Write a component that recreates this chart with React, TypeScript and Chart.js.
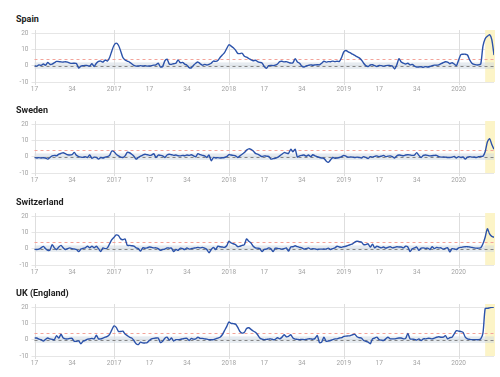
import React, { useEffect, useRef } from 'react';
import { Chart, registerables } from 'chart.js';

Chart.register(...registerables);

// Week index 0 = 2016 week 17; index 208 = 2020 week 17
const TICK_POSITIONS = [0, 17, 36, 52, 69, 88, 104, 121, 140, 156, 173, 192];
const TICK_LABELS = ['17', '34', '2017', '17', '34', '2018', '17', '34', '2019', '17', '34', '2020'];
const YEAR_POSITIONS = [0, 36, 88, 140, 192];
const Y_TICKS = [-10, 0, 10, 20];
const THRESHOLD = 4.2;
const BAND_LOW = -2;
const BAND_HIGH = 2;
const HIGHLIGHT_START = 204;

const COUNTRIES = ['Spain', 'Sweden', 'Switzerland', 'UK (England)'];

const SPAIN = [
  0, -0.3, 0.5, 0.2, 1, 0.3, 2, 0.8, 1, 1.8,
  2.6, 2.5, 2.3, 2.2, 2.4, 2.2, 1.6, 1.4, 1.5, 1.3,
  -1.5, -0.3, 0, 0.2, 0, -0.2, 1.2, -0.5, 1.5, 2.6,
  2.8, 2.2, 3.5, 2.8, 5, 9, 12.5, 13.8, 12.5, 9,
  5, 3.5, 2.8, 2.2, 1.2, 0.2, -0.3, -0.2, 0, -0.2,
  0, -0.3, -0.2, 0, 0.3, 0.5, 1.5, -0.8, -0.5, 3,
  4, 1, 0.8, 1.2, 1.5, 3.5, 1.8, 2, 1, 0.3,
  -1.2, -1.3, 0.3, 1.5, 2.2, 1.2, 0.3, 0.8, 0.4, 0.8,
  1.5, 2.8, 2.6, 3.2, 5, 6.5, 8, 10.5, 12.8, 12,
  11, 9.5, 7.5, 7.4, 7.6, 5.8, 5.2, 4.4, 3.6, 3,
  3.3, 2.5, 2, 1.7, -0.5, -1.6, 0, 0.2, 0, 0.3,
  1, 2.5, 2.7, 2.3, 2.5, 2, 1.6, 1.8, 4.3, 2.3,
  1.5, -0.3, -0.8, -0.2, 0.2, 0.5, 0.3, 0.5, 0.6, 0.5,
  1.5, 2.7, 2.2, 2.5, 2.4, 2.8, 2.5, 2.7, 2.6, 5,
  8.5, 9.3, 8.5, 7.8, 7, 6.3, 5.5, 4.8, 3.5, 1.5,
  0, -0.5, 0.4, 0.6, 0, -0.5, 0.2, 0, -0.3, 0,
  0.2, 0, -0.2, -2, 0.5, 4.3, 2.2, 1.5, 1, 1.5,
  0.5, 0.8, -0.3, -0.8, -0.8, -0.7, -1, -0.6, -0.8, -0.5,
  0, 0.3, 0.3, 0.5, 1.2, 1.8, 2.4, 2.2, 1.2, 1.8,
  1, 0, 3.5, 6.8, 7, 7, 6.5, 3.5, 1.5, 0.8,
  0.5, 0.5, 1, 12, 16.5, 18, 19, 16, 6.5,
];

const SWEDEN = [
  -0.5, -0.8, -0.6, -0.8, -0.7, -0.8, -1.5, -0.5, 0.5, 0.8,
  0.6, 1.5, 2, 2.4, 1.8, 1.2, 1, 1.2, 2.6, 0.8,
  0, -0.3, -0.4, 0, -0.5, 1, -1, -0.3, -0.5, -1.5,
  -0.5, -0.8, -0.3, 0, 0.8, 3.5, 3, 1.5, 0.5, -0.3,
  -0.5, 0.5, 2.6, 2.4, 1.5, 0.3, -1.5, -0.5, 0.3, 1,
  1.5, 1.2, 0.8, 1, 1.8, -0.5, 1, 0.8, 0.5, -0.5,
  1, 1.5, 1.2, 0.8, 1, 0.6, 0.5, 0.8, 0.6, 1,
  0.8, 1.2, 0.5, 0, 1.8, 1.2, 0.8, 0.5, -0.5, 1,
  -2.5, -0.5, -0.8, -0.6, -0.8, -0.7, -0.5, 0, 1.3, 1,
  0.8, 0.5, -0.5, 0.5, 1.5, 2.5, 4, 4.8, 4.5, 3.5,
  2, 1.5, 0.8, 0, 0.5, 0.3, 0.2, -1.5, -1.2, -1,
  -0.5, 0.5, 1.5, 2.5, 2.2, 2, 4.5, 3, 4.5, -0.2,
  0.5, 0.8, 1, 0.3, 1, 0, 1.2, 0.5, 0, -0.5,
  -0.8, -1, -2.6, -3.5, -2, -0.5, -1, -0.8, -0.5, 0,
  0.8, 0.3, -0.3, -0.2, -0.3, -0.5, -0.3, -0.5, -0.8, 0,
  -0.5, -1.2, 0, -0.3, 0.2, 0.5, 0, 0.3, 0.8, 0,
  0.3, 0.5, 0, -0.8, 0.5, 1, 0.8, 0.6, 1, 1.2,
  1, 0.8, 1, 2.5, 0.8, -0.5, 0.8, 1, 0.8, 0.5,
  0.6, 0.8, 0.8, 0, -0.3, -0.2, -0.3, -0.5, -0.5, -0.3,
  0.2, -0.8, 0, -0.5, -0.2, -1.5, -0.3, 0, -0.3, -0.2,
  -0.5, 0, 0.2, 0.3, 3, 9, 11, 7.5, 4.5,
];

const SWITZERLAND = [
  -0.4, -0.5, -0.3, 0.5, 1.4, 0, -1, -0.8, 2.5, 0.5,
  -0.5, 1, 2, 0.5, -0.5, 0, 0.5, 0, -0.2, -0.5,
  -1.8, -0.3, 0.2, 0.5, 1.5, 0.5, 1.5, 0.5, 1.5, 0,
  -1.8, 0.5, 0, 0.5, 3, 5.5, 7, 8.4, 8, 6,
  5.5, 6, 2, 2, 1.8, 1.5, 0.5, 0, -1.5, 0.5,
  0.3, 0.5, 1, 0.8, 0.5, 0.5, 0, -1, -0.5, -0.3,
  0.5, 0.3, 0.3, -1.8, -0.5, -1, 0.3, 0, -0.5, 0.5,
  -0.3, 0, 0.3, 0.5, 0.8, 0.5, 0.8, 0.3, -0.5, -2.5,
  -0.5, 0.8, -0.5, 1.5, 1.2, 1, 0.8, 1.8, 4.5, 3.5,
  3, 2.5, 1.2, 1.5, 2, 2.5, 6, 4.5, 3.5, 1.5,
  0.5, 0.3, 0, -1.8, -0.5, -0.3, 0.5, 0, -1.8, 0.3,
  0.2, 0, -0.3, 0, 0.5, -1.5, 1, 1.2, 1.8, 1.2,
  0.8, 0.5, -0.3, 0, 0.5, -0.3, 0, -0.2, -0.5, -0.3,
  -0.3, -0.2, -0.3, 0.3, -0.5, 0, 0.5, 1.5, 1, 0.8,
  1.2, 1.5, 2, 2.5, 3, 4, 4.5, 4.3, 4, 2.5,
  2.5, 3, 1, 2.8, 0.5, 1.5, 1, 0.5, 1, 0.3,
  0.8, 1.2, 0.5, 0.8, 1.2, 1, 1, 0.5, 1.5, 1,
  -1.8, 0, 0.5, 1, -1, 0.3, 0.5, 0.2, 0.3, -0.5,
  1.2, 0, 0.8, 0.5, 0.5, -0.3, 0.2, 0.5, -2, 0,
  -0.2, -0.5, 0.5, 0.8, 1, 1.2, 1.2, 1, 0.8, 0.5,
  0.3, 0.3, 0.5, 3, 7, 12.2, 9, 7.5, 7,
];

const UK_ENGLAND = [
  1, 1, 0.3, 0, -0.8, 0.2, 1, 0.5, 0.2, 0,
  2.5, 1, 3.3, 1, 0.5, 0.5, 0.8, 0.8, -1, -1,
  -0.8, -2.5, -1, -0.5, 0.3, 0.5, 0.8, 0.5, 2.7, 0.5,
  0.5, 1, 1.5, 2, 3.3, 6, 8.4, 7.5, 5, 5,
  5.2, 3.5, 2.5, 1.5, 1, -0.5, -2.5, -3, -1.5, -2,
  -2, -1.8, -0.5, 0.5, 0.8, 1, 1, -1.8, -1, 0.8,
  1.5, -0.3, 1, -0.8, 0, 0, 0.2, 0.5, 0.8, 0.8,
  -0.5, 0.8, 0.3, 0.5, 1.5, 0.8, 0.8, 0.5, 0.3, 0,
  0, 0, 0.5, 1, 1.5, 3, 5.5, 8, 10.8, 10,
  9.8, 9.5, 7.5, 5, 4, 4.5, 6.8, 7.3, 6.3, 5.3,
  4.5, 3, 1, 0.3, 0, 0.2, 0.3, 0.5, 0, 0.2,
  1.2, 0.5, 1.5, 3, 1.8, 2, 3, 1, 0.3, 0.2,
  0, 0.2, 0, 0.2, 0.5, 0.5, 0.3, 0.8, 2.5, -1.8,
  -1.5, 1.5, -1, -0.8, -0.5, 0, 0.5, 0.5, 1, 1.2,
  2, 2.2, 2.3, 2.5, 3, 3.3, 1.8, 1.2, 1, -0.5,
  -1, -1.5, -2.5, 0.5, 1, 1.5, 0, -0.3, -0.5, 0.5,
  1.5, 0.5, 0.5, 0.5, 0.8, 1, 1, 0.5, 0.8, 3.8,
  0.5, 0.3, 0.2, -0.3, 0.5, -0.5, 0.5, 0.5, 0.8, 0.8,
  0.5, 1, 1.5, 1.8, 1.5, 1.5, 2.5, 0.5, 1.2, 1.5,
  3.5, 5.5, 5.2, 5, 4.5, 1.5, 0.5, 0.2, 0, 0,
  0, 0, 0.5, 4, 19, 19.2, 19.5, 19.8, 20,
];

const SERIES = [SPAIN, SWEDEN, SWITZERLAND, UK_ENGLAND];

const FONT = 'Roboto, "Noto Sans", sans-serif';
const LINE_COLOR = '#2b52aa';
const TICK_COLOR = '#a3a3a3';
const PANEL_STEP = 91.3;
const CANVAS_OFFSET = 26;
const CANVAS_H = 67;

const decorPlugin = {
  id: 'decor',
  beforeDatasetsDraw(chart: any) {
    const { ctx, chartArea, scales } = chart;
    const x = scales.x;
    const y = scales.y;
    const { left, right, top, bottom } = chartArea;
    ctx.save();
    // highlight area
    const hx = x.getPixelForValue(HIGHLIGHT_START);
    ctx.fillStyle = '#fcf4c7';
    ctx.fillRect(hx, top - 3, right - hx + 1, bottom - top + 3);
    // band around zero
    const by1 = y.getPixelForValue(BAND_HIGH);
    const by2 = y.getPixelForValue(BAND_LOW);
    ctx.fillStyle = 'rgba(205, 216, 226, 0.5)';
    ctx.fillRect(left, by1, right - left, by2 - by1);
    // year lines
    ctx.strokeStyle = '#dedede';
    ctx.lineWidth = 1;
    YEAR_POSITIONS.forEach((p) => {
      const px = Math.round(x.getPixelForValue(p)) + 0.5;
      ctx.beginPath();
      ctx.moveTo(px, top - 3);
      ctx.lineTo(px, bottom + 3);
      ctx.stroke();
    });
    // threshold dashed
    const ty = Math.round(y.getPixelForValue(THRESHOLD)) + 0.5;
    ctx.setLineDash([3, 3]);
    ctx.strokeStyle = '#f3a49b';
    ctx.beginPath();
    ctx.moveTo(left, ty);
    ctx.lineTo(right, ty);
    ctx.stroke();
    // zero dashed
    const zy = Math.round(y.getPixelForValue(0)) + 0.5;
    ctx.strokeStyle = '#858585';
    ctx.beginPath();
    ctx.moveTo(left, zy);
    ctx.lineTo(right, zy);
    ctx.stroke();
    ctx.restore();
  },
};

function Panel({ title, values, top }: { title: string; values: number[]; top: number }) {
  const ref = useRef<HTMLCanvasElement>(null);
  useEffect(() => {
    const chart = new Chart(ref.current as HTMLCanvasElement, {
      type: 'line',
      data: {
        datasets: [
          {
            data: values.map((v, i) => ({ x: i, y: v })),
            borderColor: LINE_COLOR,
            borderWidth: 1.4,
            pointRadius: 0,
            tension: 0.25,
            fill: false,
          },
        ],
      },
      options: {
        animation: false,
        responsive: false,
        maintainAspectRatio: false,
        layout: { padding: { top: 7, right: 6, left: 0, bottom: 0 } },
        plugins: { legend: { display: false }, tooltip: { enabled: false } },
        scales: {
          x: {
            type: 'linear',
            min: 0,
            max: values.length - 1,
            afterBuildTicks: (s: any) => {
              s.ticks = TICK_POSITIONS.map((v) => ({ value: v }));
            },
            afterFit: (s: any) => {
              s.height = 11;
            },
            grid: { display: false, drawTicks: false },
            border: { display: false },
            ticks: {
              autoSkip: false,
              maxRotation: 0,
              padding: 3,
              color: TICK_COLOR,
              font: { size: 6.5, family: FONT },
              callback: (v: any) => {
                const k = TICK_POSITIONS.indexOf(Number(v));
                return k >= 0 ? TICK_LABELS[k] : '';
              },
            },
          },
          y: {
            min: -10,
            max: 20,
            afterBuildTicks: (s: any) => {
              s.ticks = Y_TICKS.map((v) => ({ value: v }));
            },
            afterFit: (s: any) => {
              s.width = 34.5;
            },
            grid: { color: '#e6e6e6', tickLength: 3, tickColor: '#e6e6e6' },
            border: { display: false },
            ticks: {
              padding: 3,
              color: TICK_COLOR,
              font: { size: 6.5, family: FONT },
            },
          },
        },
      } as any,
      plugins: [decorPlugin],
    });
    return () => chart.destroy();
  }, []);

  return (
    <div style={{ position: 'absolute', left: 0, top, width: 500, height: PANEL_STEP }}>
      <div
        style={{
          position: 'absolute',
          left: 16,
          top: 13,
          fontFamily: FONT,
          fontWeight: 700,
          fontSize: 9,
          lineHeight: '12px',
          color: '#222',
          whiteSpace: 'nowrap',
        }}
      >
        {title}
      </div>
      <canvas
        ref={ref}
        width={500}
        height={CANVAS_H}
        style={{ position: 'absolute', left: 0, top: CANVAS_OFFSET, width: 500, height: CANVAS_H }}
      />
    </div>
  );
}

export default function App() {
  return (
    <div
      style={{
        position: 'fixed',
        left: 0,
        top: 0,
        width: 500,
        height: 377,
        background: '#fff',
        overflow: 'hidden',
      }}
    >
      {COUNTRIES.map((c, i) => (
        <Panel key={c} title={c} values={SERIES[i]} top={Math.round(i * PANEL_STEP)} />
      ))}
    </div>
  );
}
